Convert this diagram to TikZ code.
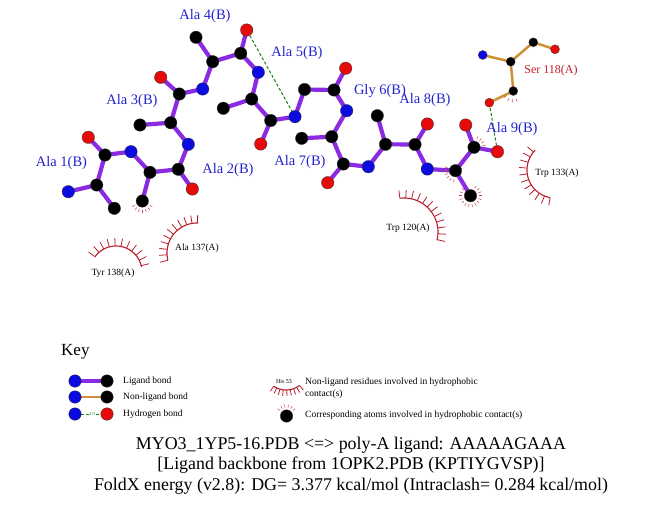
\documentclass[tikz,border=0pt]{standalone}
\usepackage{fontspec}
\setmainfont{Liberation Serif}
\usetikzlibrary{calc}
\pgfdeclarelayer{bonds}
\pgfsetlayers{bonds,main}
\definecolor{nblue}{RGB}{10,10,225}
\definecolor{ored}{RGB}{230,10,10}
\definecolor{ligp}{RGB}{138,43,226}
\definecolor{nonlig}{RGB}{205,145,50}
\definecolor{hbg}{RGB}{20,130,20}
\definecolor{hyd}{RGB}{185,30,45}
\definecolor{lblue}{RGB}{35,35,205}
\definecolor{serlab}{RGB}{190,30,40}
\tikzset{
 atom/.style={circle, draw=black!80, line width=0.3pt, inner sep=0pt, minimum size=12.5pt},
 Natom/.style={atom, fill=nblue},
 Oatom/.style={atom, fill=ored},
 Catom/.style={atom, fill=black},
 satom/.style={circle, draw=black!80, line width=0.3pt, inner sep=0pt, minimum size=9pt},
 sN/.style={satom, fill=nblue},
 sO/.style={satom, fill=ored},
 sC/.style={satom, fill=black},
 ligbond/.style={ligp, line width=4.2pt},
 nlbond/.style={nonlig, line width=2.5pt},
 hbond/.style={hbg, line width=1pt, dash pattern=on 3pt off 2pt},
 reslab/.style={text=lblue, font=\fontsize{14.5}{16}\selectfont, inner sep=0pt},
 hlab/.style={text=black, font=\fontsize{9.5}{11}\selectfont, inner sep=0pt},
 keytxt/.style={font=\fontsize{9.5}{11}\selectfont, inner sep=0pt, anchor=west},
 ttl/.style={font=\fontsize{17.9}{20}\selectfont, inner sep=0pt},
 hydline/.style={hyd, line width=1.1pt},
 hydspoke/.style={hyd, line width=0.8pt},
 hydmark/.style={hyd!85, line width=0.5pt},
}
% center x, center y, radius, start angle, second angle, end angle, spoke length
\newcommand\myhydarc[7]{%
 \draw[hydline] plot[domain=#4:#6, samples=40, smooth] ({#1+#3*cos(\x)},{#2+#3*sin(\x)});
 \foreach \a in {#4,#5,...,#6} \draw[hydspoke] ({#1+#3*cos(\a)},{#2+#3*sin(\a)}) -- ({#1+(#3+#7)*cos(\a)},{#2+(#3+#7)*sin(\a)});
}
% atom name, start, second, end
\newcommand\myhydatom[4]{%
 \foreach \a in {#2,#3,...,#4} \draw[hydmark] ($(#1)+(\a:8.5)$) -- ($(#1)+(\a:11.5)$);
}
\begin{document}
\begin{tikzpicture}[x=1pt,y=-1pt]
\useasboundingbox (0,0) rectangle (651,511);
% ---------- ligand atoms ----------
\node[Natom] (N1) at (68.3,191.7) {};
\node[Catom] (CA1) at (96.7,185) {};
\node[Catom] (CB1) at (114.3,208.3) {};
\node[Catom] (C1) at (105,155) {};
\node[Oatom] (O1) at (88.3,137.3) {};
\node[Natom] (N2) at (131,151.7) {};
\node[Catom] (CA2) at (150,172.3) {};
\node[Catom] (CB2) at (142.3,201) {};
\node[Catom] (C2) at (178.3,169.3) {};
\node[Oatom] (O2) at (192.3,189) {};
\node[Natom] (N3) at (188.3,144.3) {};
\node[Catom] (CA3) at (170.7,122.7) {};
\node[Catom] (CB3) at (140,125) {};
\node[Catom] (C3) at (179.3,94) {};
\node[Oatom] (O3) at (160.7,77.3) {};
\node[Natom] (N4) at (202.7,89) {};
\node[Catom] (CA4) at (212.7,61.7) {};
\node[Catom] (CB4) at (196,37.3) {};
\node[Catom] (C4) at (240.7,53.3) {};
\node[Oatom] (O4) at (246.7,30) {};
\node[Natom] (N5) at (258.3,72.3) {};
\node[Catom] (CA5) at (251.7,99) {};
\node[Catom] (CB5) at (223.3,108.3) {};
\node[Catom] (C5) at (270.7,120.5) {};
\node[Oatom] (O5) at (260.7,144) {};
\node[Natom] (N6) at (295,116.7) {};
\node[Catom] (CA6) at (304.5,89.5) {};
\node[Catom] (C6) at (334,90) {};
\node[Oatom] (O6) at (345.7,68.3) {};
\node[Natom] (N7) at (346.7,110.7) {};
\node[Catom] (CA7) at (331.7,136.7) {};
\node[Catom] (CB7) at (301.7,138.3) {};
\node[Catom] (C7) at (343.3,164) {};
\node[Oatom] (O7) at (327.7,182.7) {};
\node[Natom] (N8) at (368.3,166.7) {};
\node[Catom] (CA8) at (385.5,144.3) {};
\node[Catom] (CB8) at (377.3,115.7) {};
\node[Catom] (C8) at (415,144.5) {};
\node[Oatom] (O8) at (427.3,124) {};
\node[Natom] (N9) at (427.3,169) {};
\node[Catom] (CA9) at (455.5,170.7) {};
\node[Catom] (CB9) at (470.5,195.7) {};
\node[Catom] (C9) at (474,147.3) {};
\node[Oatom] (O9) at (465.7,125) {};
\node[Oatom] (OXT) at (497.5,151.7) {};
% ---------- Ser 118 ----------
\node[sN] (SN) at (482.7,55) {};
\node[sC] (SCA) at (510.7,61.7) {};
\node[sC] (SC) at (533.3,42.3) {};
\node[sO] (SO) at (555,49.3) {};
\node[sC] (SCB) at (513.3,91) {};
\node[sO] (SOG) at (489.3,102.7) {};
% ---------- bonds ----------
\begin{pgfonlayer}{bonds}
\draw[ligbond] (N1.center)--(CA1.center) (CA1.center)--(CB1.center) (CA1.center)--(C1.center) (C1.center)--(O1.center) (C1.center)--(N2.center);
\draw[ligbond] (N2.center)--(CA2.center) (CA2.center)--(CB2.center) (CA2.center)--(C2.center) (C2.center)--(O2.center) (C2.center)--(N3.center);
\draw[ligbond] (N3.center)--(CA3.center) (CA3.center)--(CB3.center) (CA3.center)--(C3.center) (C3.center)--(O3.center) (C3.center)--(N4.center);
\draw[ligbond] (N4.center)--(CA4.center) (CA4.center)--(CB4.center) (CA4.center)--(C4.center) (C4.center)--(O4.center) (C4.center)--(N5.center);
\draw[ligbond] (N5.center)--(CA5.center) (CA5.center)--(CB5.center) (CA5.center)--(C5.center) (C5.center)--(O5.center) (C5.center)--(N6.center);
\draw[ligbond] (N6.center)--(CA6.center) (CA6.center)--(C6.center) (C6.center)--(O6.center) (C6.center)--(N7.center);
\draw[ligbond] (N7.center)--(CA7.center) (CA7.center)--(CB7.center) (CA7.center)--(C7.center) (C7.center)--(O7.center) (C7.center)--(N8.center);
\draw[ligbond] (N8.center)--(CA8.center) (CA8.center)--(CB8.center) (CA8.center)--(C8.center) (C8.center)--(O8.center) (C8.center)--(N9.center);
\draw[ligbond] (N9.center)--(CA9.center) (CA9.center)--(CB9.center) (CA9.center)--(C9.center) (C9.center)--(O9.center) (C9.center)--(OXT.center);
\draw[nlbond] (SN.center)--(SCA.center) (SCA.center)--(SC.center) (SC.center)--(SO.center) (SCA.center)--(SCB.center) (SCB.center)--(SOG.center);
\draw[hbond] (O4)--(N6);
\draw[hbond] (OXT)--(SOG);
\end{pgfonlayer}
% ---------- hydrophobic marks on atoms ----------
\myhydatom{CB2}{30}{50}{150}
\myhydatom{CA9}{100}{120}{200}
\myhydatom{CB9}{-60}{-40}{220}
\myhydatom{C9}{-70}{-50}{-10}
\myhydatom{SCB}{70}{95}{145}
% ---------- hydrophobic residues ----------
\myhydarc{555}{170}{28}{100}{112}{225}{8}
\myhydarc{404}{232}{34}{-97}{-87}{14}{8}
\myhydarc{197}{253}{30}{166}{176.5}{272}{8}
\myhydarc{116}{272}{26}{216}{229}{349}{8}
% ---------- labels ----------
\node[reslab] (L1) at (61.5,163) {Ala 1(B)};
\node[reslab] (L2) at (228,170) {Ala 2(B)};
\node[reslab] (L3) at (132,101) {Ala 3(B)};
\node[reslab] (L4) at (205,16) {Ala 4(B)};
\node[reslab] (L5) at (297,53) {Ala 5(B)};
\node[reslab] (L6) at (380,91) {Gly 6(B)};
\node[reslab] (L7) at (300,162) {Ala 7(B)};
\node[reslab] (L8) at (425,100) {Ala 8(B)};
\node[reslab] (L9) at (512,129) {Ala 9(B)};
\node[text=serlab, font=\fontsize{12}{14}\selectfont, inner sep=0pt] (LS) at (551,71) {Ser 118(A)};
\node[hlab] (H1) at (557,173) {Trp 133(A)};
\node[hlab] (H2) at (408,228) {Trp 120(A)};
\node[hlab] (H3) at (197,248) {Ala 137(A)};
\node[hlab] (H4) at (113,273) {Tyr 138(A)};
% ---------- key ----------
\node[font=\fontsize{17}{19}\selectfont, inner sep=0pt, anchor=west] (key) at (61,352) {Key};
\node[Natom] (k1a) at (75,381) {};
\node[Catom] (k1b) at (107,381) {};
\node[Natom] (k2a) at (75,397) {};
\node[Catom] (k2b) at (107,397) {};
\node[Natom] (k3a) at (75,414) {};
\node[Oatom] (k3b) at (107,414) {};
\begin{pgfonlayer}{bonds}
\draw[ligbond] (k1a.center)--(k1b.center);
\draw[nlbond] (k2a.center)--(k2b.center);
\draw[hbond] (k3a)--(k3b);
\end{pgfonlayer}
\node[text=hbg, fill=white, inner sep=0.3pt, font=\fontsize{4.5}{5}\selectfont] (k3t) at (92,414) {3.0};
\node[keytxt] (kt1) at (123,381) {Ligand bond};
\node[keytxt] (kt2) at (123,397) {Non-ligand bond};
\node[keytxt] (kt3) at (123,414) {Hydrogen bond};
\node[font=\fontsize{6}{7}\selectfont, inner sep=0pt] (khis) at (284,382) {His 53};
\myhydarc{286}{368}{22}{52}{61}{124}{6}
\node[keytxt] (kt4) at (305,382) {Non-ligand residues involved in hydrophobic};
\node[keytxt] (kt5) at (305,394) {contact(s)};
\node[Catom] (katom) at (286.5,416) {};
\myhydatom{katom}{220}{240}{320}
\node[keytxt] (kt6) at (305,415) {Corresponding atoms involved in hydrophobic contact(s)};
% ---------- title ----------
\node[ttl] (t1) at (351,445) {MYO3\_1YP5-16.PDB <=> poly-A ligand: AAAAAGAAA};
\node[ttl] (t2) at (351,465) {[Ligand backbone from 1OPK2.PDB (KPTIYGVSP)]};
\node[ttl] (t3) at (351,486) {FoldX energy (v2.8): DG= 3.377 kcal/mol (Intraclash= 0.284 kcal/mol)};
\end{tikzpicture}
\end{document}
